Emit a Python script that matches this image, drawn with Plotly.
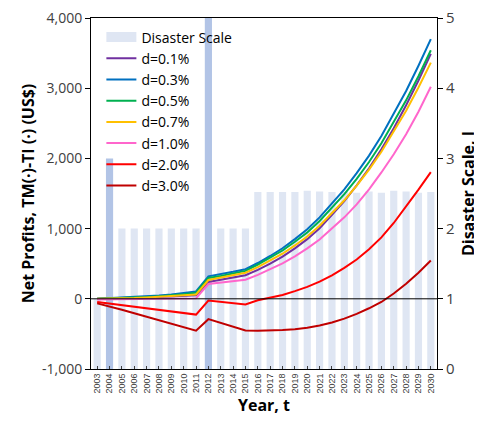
import plotly.graph_objects as go

years = [str(y) for y in range(2003, 2031)]

# disaster scale I (right axis)
disaster = [1, 3, 2, 2, 2, 2, 2, 2, 2, 5, 2, 2, 2,
            2.52, 2.52, 2.52, 2.52, 2.54, 2.53, 2.52, 2.52, 2.51, 2.53, 2.51, 2.54, 2.53, 2.51, 2.52]
light = '#dfe6f3'
dark = '#b2c4e6'
bar_colors = [light, dark] + [light] * 7 + [dark] + [light] * 18

# net profits TM-TI (US$) for each discount rate d
d01 = [0, 3, 7, 12, 18, 25, 33, 42, 50, 240, 270, 300, 335, 412, 500, 600, 718, 850,
       1005, 1195, 1390, 1615, 1860, 2130, 2430, 2758, 3110, 3490]
d03 = [0, 8, 15, 25, 35, 48, 62, 80, 105, 320, 350, 385, 422, 510, 610, 720, 850, 990,
       1160, 1360, 1560, 1790, 2040, 2320, 2630, 2960, 3320, 3700]
d05 = [0, 5, 10, 18, 27, 38, 50, 66, 88, 296, 325, 360, 398, 487, 583, 688, 812, 945,
       1108, 1299, 1490, 1709, 1948, 2216, 2512, 2827, 3171, 3540]
d07 = [0, 2, 6, 12, 20, 29, 39, 50, 62, 268, 300, 335, 372, 452, 542, 642, 760, 887,
       1040, 1222, 1403, 1612, 1840, 2095, 2378, 2680, 3010, 3365]
d10 = [-10, -8, -6, -4, -2, 0, 2, 4, 6, 210, 230, 250, 272, 340, 418, 505, 605, 718,
       845, 1000, 1160, 1345, 1560, 1800, 2060, 2345, 2665, 3020]
d20 = [-45, -68, -90, -112, -135, -157, -180, -202, -225, -25, -45, -65, -80, -20, 15, 55, 110, 170,
       245, 335, 440, 560, 705, 875, 1080, 1310, 1555, 1805]
d30 = [-65, -105, -155, -205, -255, -305, -355, -400, -455, -290, -345, -400, -452, -455, -452, -445,
       -432, -412, -380, -338, -282, -215, -135, -45, 75, 215, 370, 545]

series = [('d=0.1%', d01, '#7030a0'), ('d=0.3%', d03, '#0070c0'), ('d=0.5%', d05, '#00b050'),
          ('d=0.7%', d07, '#ffc000'), ('d=1.0%', d10, '#ff66cc'), ('d=2.0%', d20, '#ff0000'),
          ('d=3.0%', d30, '#c00000')]

profit_ticks = [-1000, 0, 1000, 2000, 3000, 4000]
profit_labels = ['-1,000', '0', '1,000', '2,000', '3,000', '4,000']

fig = go.Figure()
fig.add_trace(go.Bar(x=years, y=disaster, name='Disaster Scale', marker_color=bar_colors,
                     marker_line_width=0, yaxis='y', showlegend=False))
# legend entry for the bars (wide swatch like the original)
fig.add_trace(go.Scatter(x=[None], y=[None], name='Disaster Scale', mode='lines',
                         line=dict(color=light, width=10), yaxis='y'))
for name, vals, col in series:
    fig.add_trace(go.Scatter(x=years, y=vals, name=name, mode='lines',
                             line=dict(color=col, width=2), yaxis='y2'))

# zero line of the profit axis, drawn over the bars
fig.add_shape(type='line', xref='paper', x0=0, x1=1, yref='y2', y0=0, y1=0,
              line=dict(color='black', width=1), layer='above')

# page body has an 8px margin, so the figure is a little smaller than the window
fig.update_layout(
    width=474, height=418,
    margin=dict(l=83, r=45, t=10, b=57),
    plot_bgcolor='white', paper_bgcolor='white',
    font=dict(family='Open Sans', color='#404040'),
    bargap=0.42,
    showlegend=True,
    legend=dict(x=0.03, y=0.99, xanchor='left', yanchor='top', bgcolor='rgba(0,0,0,0)',
                font=dict(size=14, color='black'), traceorder='normal'),
    xaxis=dict(type='category', tickangle=-90, automargin=False,
               tickfont=dict(family='Liberation Sans', size=9, color='#404040'),
               ticks='inside', ticklen=3, tickcolor='#404040', showline=True, linecolor='black',
               mirror=True, showgrid=False,
               title=dict(text='<b>Year, t</b>', font=dict(size=16, color='black'), standoff=5)),
    yaxis=dict(side='right', range=[0, 5], dtick=1, showgrid=False, zeroline=False, automargin=False,
               showline=True, linecolor='black', ticks='outside', ticklen=5, tickcolor='black',
               tickfont=dict(size=15, color='#404040'), ticklabeloverflow='allow',
               title=dict(text='<b>Disaster Scale, I</b>', font=dict(size=16, color='black'), standoff=8)),
    yaxis2=dict(side='left', overlaying='y', range=[-1000, 4000], automargin=False,
                tickvals=profit_ticks, ticktext=profit_labels, ticklabeloverflow='allow',
                showgrid=False, zeroline=False, showline=True, linecolor='black',
                ticks='outside', ticklen=5, tickcolor='black',
                tickfont=dict(size=14, color='#404040'),
                title=dict(text='<b>Net Profits, TM(·)-TI (·) (US$)</b>',
                           font=dict(size=16, color='black'), standoff=3)),
)

fig.write_html('out.html')
